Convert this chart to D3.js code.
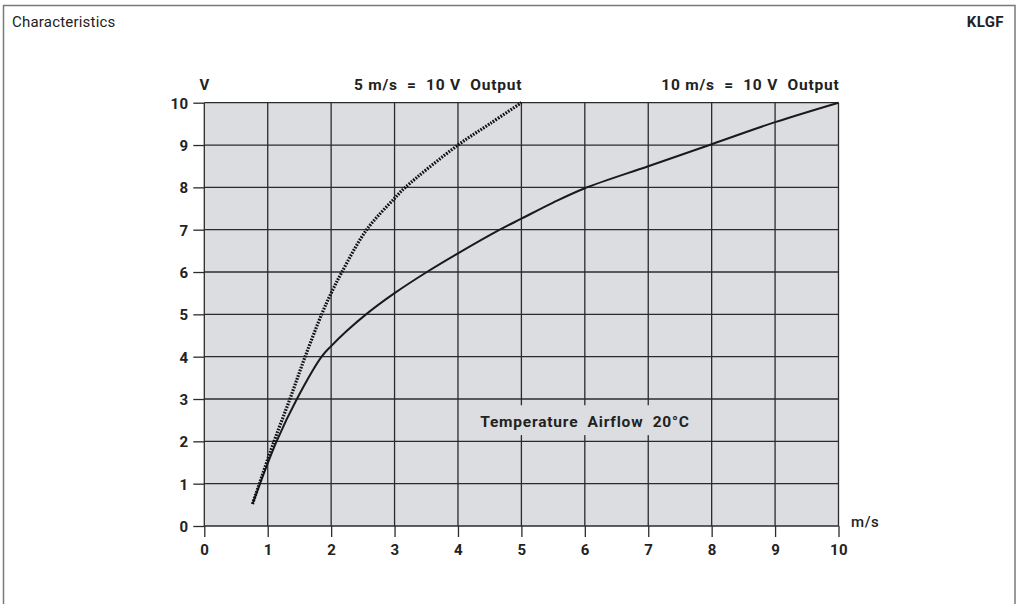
<!DOCTYPE html>
<html>
<head>
<meta charset="utf-8">
<script src="https://cdn.jsdelivr.net/npm/d3@7"></script>
<style>
  html, body { margin: 0; padding: 0; background: #fff; }
  svg { display: block; }
  text { font-family: Roboto, "Liberation Sans", sans-serif; fill: #222; }
</style>
</head>
<body>
<svg id="chart" width="1021" height="604"></svg>
<script>
// ---- data ----
const xTicks = [0, 1, 2, 3, 4, 5, 6, 7, 8, 9, 10];
const yTicks = [0, 1, 2, 3, 4, 5, 6, 7, 8, 9, 10];
// 10 m/s = 10 V output (solid)
const solidX = [0.76, 1.14, 1.46, 1.85, 2.0, 2.24, 2.55, 3.0, 3.51, 4.0, 4.66, 5.0, 5.5, 6.0, 7.0, 8.0, 9.0, 10.0];
const solidY = [0.52, 2.0, 3.0, 4.0, 4.25, 4.6, 5.0, 5.5, 6.0, 6.44, 7.0, 7.26, 7.64, 7.98, 8.5, 9.02, 9.54, 10.0];
// 5 m/s = 10 V output (dotted)
const dottedX = [0.76, 1.1, 1.35, 1.59, 1.85, 2.0, 2.17, 2.56, 3.0, 3.17, 4.0, 4.5, 5.0];
const dottedY = [0.52, 2.0, 3.0, 4.0, 5.0, 5.5, 6.0, 7.0, 7.74, 8.0, 9.0, 9.5, 10.0];
const titleLeft = "Characteristics";
const titleRight = "KLGF";
const header5 = "5 m/s  =  10 V  Output";
const header10 = "10 m/s  =  10 V  Output";
const noteText = "Temperature  Airflow  20°C";
const xUnit = "m/s";
const yUnit = "V";

// ---- layout ----
const svg = d3.select("#chart");
const x = d3.scaleLinear().domain([0, 10]).range([204.3, 838.5]);
const y = d3.scaleLinear().domain([0, 10]).range([526, 102.7]);
const ink = "#2b2b2b";

// outer frame
svg.append("rect").attr("x", 3.5).attr("y", 5.5).attr("width", 1011.5).attr("height", 610)
  .attr("fill", "none").attr("stroke", "#7a7a7a").attr("stroke-width", 1.5);

svg.append("text").attr("x", 12).attr("y", 27).attr("font-size", 15).attr("fill", "#444")
  .style("font-weight", 400).style("letter-spacing", "0.2px").text(titleLeft);
svg.append("text").attr("x", 1004).attr("y", 27).attr("font-size", 15).attr("text-anchor", "end")
  .style("font-weight", 700).style("letter-spacing", "0.4px").text(titleRight);

// plot background
svg.append("rect").attr("x", x(0)).attr("y", y(10)).attr("width", x(10) - x(0)).attr("height", y(0) - y(10))
  .attr("fill", "#dcdde0");

// grid
const grid = svg.append("g").attr("stroke", ink).attr("stroke-width", 1.3);
grid.selectAll("line.v").data(xTicks).join("line").attr("class", "v")
  .attr("x1", d => x(d)).attr("x2", d => x(d)).attr("y1", y(10)).attr("y2", y(0));
grid.selectAll("line.h").data(yTicks).join("line").attr("class", "h")
  .attr("x1", x(0)).attr("x2", x(10)).attr("y1", d => y(d)).attr("y2", d => y(d));

// axes
const xAxis = d3.axisBottom(x).tickValues(xTicks).tickSize(11).tickPadding(7).tickFormat(d3.format("d"));
const yAxis = d3.axisLeft(y).tickValues(yTicks).tickSize(11).tickPadding(5).tickFormat(d3.format("d"));
const gx = svg.append("g").attr("transform", `translate(0,${y(0)})`).call(xAxis);
const gy = svg.append("g").attr("transform", `translate(${x(0)},0)`).call(yAxis);
[gx, gy].forEach(g => {
  g.select(".domain").remove();
  g.selectAll(".tick line").attr("stroke", ink).attr("stroke-width", 1.3);
  g.selectAll(".tick text").attr("font-size", 15).style("font-weight", 700).attr("fill", "#222")
    .style("font-family", "Roboto, sans-serif").style("letter-spacing", "0.3px");
});
gy.selectAll(".tick text").attr("dy", "0.36em");

// unit labels
svg.append("text").attr("x", x(0)).attr("y", 90).attr("text-anchor", "middle")
  .attr("font-size", 15).style("font-weight", 700).text(yUnit);
svg.append("text").attr("x", 851).attr("y", 527).attr("font-size", 15)
  .style("font-weight", 500).style("letter-spacing", "0.6px").text(xUnit);

// headers
const hdrStyle = sel => sel.attr("text-anchor", "end").attr("font-size", 15.5).style("font-weight", 700)
  .style("white-space", "pre").style("letter-spacing", "0.8px");
svg.append("text").attr("x", x(5) + 1).attr("y", 90).call(hdrStyle).text(header5);
svg.append("text").attr("x", x(10) + 1).attr("y", 90).call(hdrStyle).text(header10);

// curves
const line = d3.line().x(d => x(d[0])).y(d => y(d[1])).curve(d3.curveCatmullRom.alpha(0.5));
svg.append("path").datum(d3.zip(solidX, solidY)).attr("d", line)
  .attr("fill", "none").attr("stroke", "#1a1a1a").attr("stroke-width", 2);
svg.append("path").datum(d3.zip(dottedX, dottedY)).attr("d", line)
  .attr("fill", "none").attr("stroke", "#111").attr("stroke-width", 3.2)
  .attr("stroke-dasharray", "1.7,1.3");

// note with background box
const note = svg.append("g");
const noteBox = note.append("rect").attr("fill", "#dcdde0");
const noteT = note.append("text").attr("x", 585).attr("y", 427)
  .attr("text-anchor", "middle").attr("font-size", 15.5).style("font-weight", 700)
  .style("white-space", "pre").style("letter-spacing", "0.8px").text(noteText);
const bb = noteT.node().getBBox();
noteBox.attr("x", bb.x - 6).attr("y", y(2.9) + 2).attr("width", bb.width + 12).attr("height", y(2.1) - y(2.9) - 4);
</script>
</body>
</html>
